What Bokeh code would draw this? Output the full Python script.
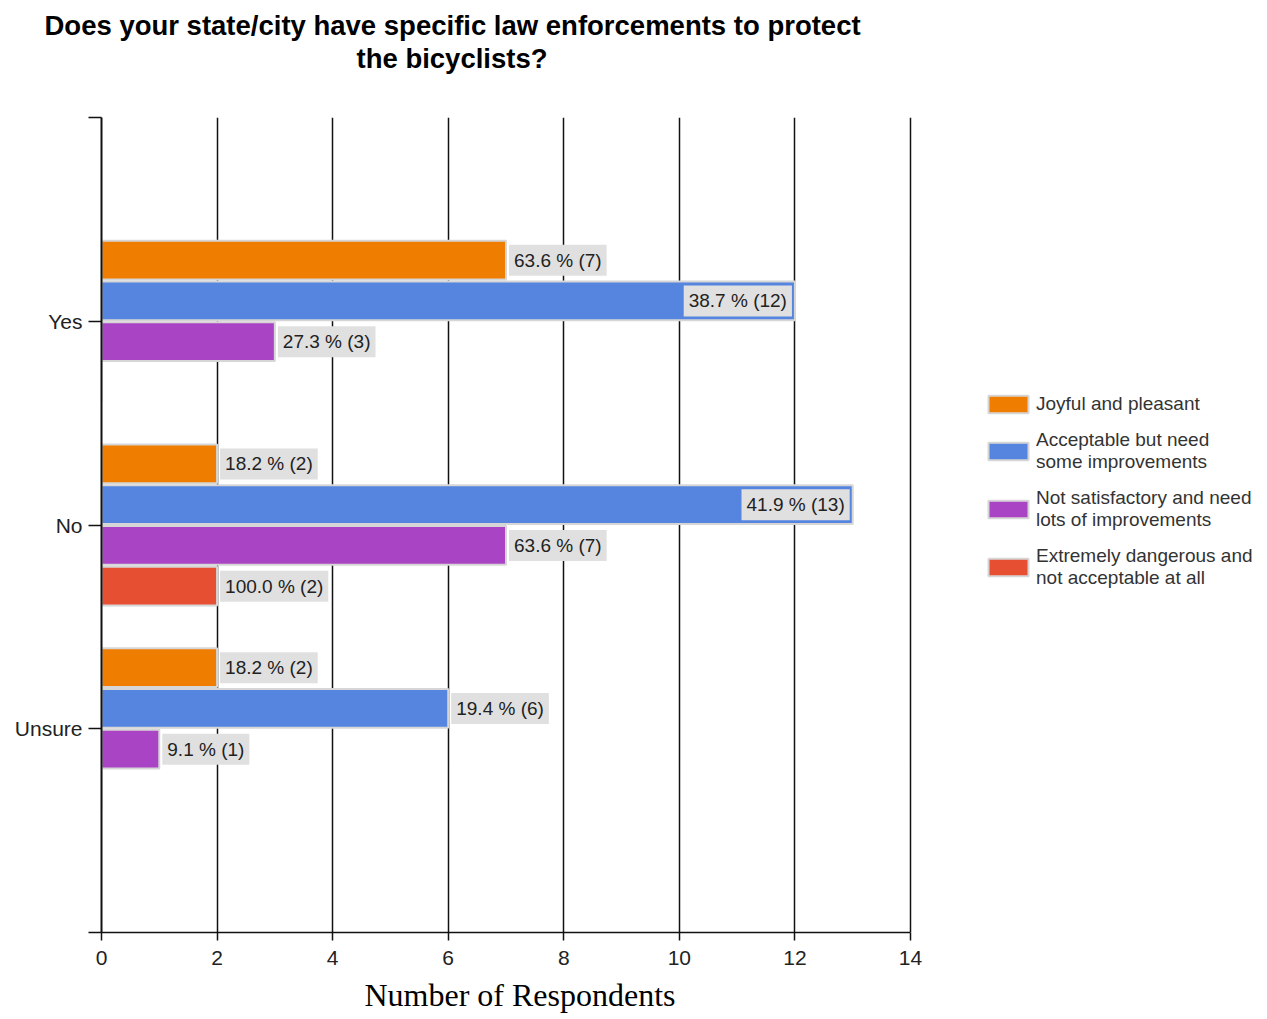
from bokeh.plotting import figure
from bokeh.models import ColumnDataSource, FixedTicker, Legend, LegendItem, Title
from bokeh.embed import file_html
from bokeh.resources import INLINE
from bokeh.core.properties import value

# ---------------- data ----------------
categories = ["Yes", "No", "Unsure"]
series_names = [
    "Joyful and pleasant",
    "Acceptable but need\nsome improvements",
    "Not satisfactory and need\nlots of improvements",
    "Extremely dangerous and\nnot acceptable at all",
]
joyful_counts = [7, 2, 2]
joyful_pct = [63.6, 18.2, 18.2]
acceptable_counts = [12, 13, 6]
acceptable_pct = [38.7, 41.9, 19.4]
notsat_counts = [3, 7, 1]
notsat_pct = [27.3, 63.6, 9.1]
dangerous_counts = [0, 2, 0]
dangerous_pct = [0.0, 100.0, 0.0]
x_ticks = [0, 2, 4, 6, 8, 10, 12, 14]
title_lines = ["Does your state/city have specific law enforcements to protect",
               "the bicyclists?"]
x_title = "Number of Respondents"

series_counts = [joyful_counts, acceptable_counts, notsat_counts, dangerous_counts]
series_pcts = [joyful_pct, acceptable_pct, notsat_pct, dangerous_pct]

# ---------------- style / layout ----------------
colors = ["#ef7d00", "#5585de", "#a945c5", "#e64f31"]
offsets = [0.3, 0.1, -0.1, -0.3]
bar_h = 0.19
FONT = "Liberation Sans"
n_cat = len(categories)
cat_pos = [n_cat - i for i in range(n_cat)]  # Yes=3, No=2, Unsure=1

W, H = 1267, 1019
left_b, top_b, bottom_b = 101, 117, 87
axis_px = 809                      # pixel length of the 0..14 axis
x_max = x_ticks[-1]
frame_w = W - left_b
x_end = x_max * frame_w / axis_px  # frame extends right to hold the legend

p = figure(width=W, height=H, output_backend="svg", toolbar_location=None,
           x_range=(0, x_end), y_range=(0, n_cat + 1),
           min_border_left=left_b, min_border_right=0, min_border_top=top_b,
           min_border_bottom=bottom_b)
p.outline_line_color = None
p.background_fill_color = "white"

legend_items = []
for name, counts, pcts, col, off in zip(series_names, series_counts, series_pcts, colors, offsets):
    ys = [c + off for c in cat_pos]
    src = ColumnDataSource(dict(y=ys, right=counts))
    r = p.hbar(y="y", left=0, right="right", height=bar_h, source=src,
               fill_color=col, line_color="#d6d6d6", line_width=2)
    legend_items.append(LegendItem(label=name, renderers=[r]))

    out_x, out_y, out_t, in_x, in_y, in_t = [], [], [], [], [], []
    for cnt, pc, y in zip(counts, pcts, ys):
        if cnt == 0:
            continue
        txt = f"{pc:.1f} % ({cnt})"
        if cnt > 11:
            in_x.append(cnt); in_y.append(y); in_t.append(txt)
        else:
            out_x.append(cnt); out_y.append(y); out_t.append(txt)
    common = dict(text_font=value(FONT), text_font_size="19px", text_color="#222222",
                  text_baseline="middle", background_fill_color="#e0e0e0", padding=5)
    if out_x:
        p.text(x=out_x, y=out_y, text=out_t, text_align="left", x_offset=3, **common)
    if in_x:
        p.text(x=in_x, y=in_y, text=in_t, text_align="right", x_offset=-3, **common)

# x axis (bounded to 0..14)
p.xaxis.bounds = (0, x_max)
p.xaxis.ticker = FixedTicker(ticks=x_ticks)
p.xgrid.ticker = FixedTicker(ticks=x_ticks)
p.xgrid.bounds = (0, x_max)
p.xgrid.grid_line_color = "#111111"
p.xgrid.grid_line_width = 1.5
p.ygrid.grid_line_color = None
p.xaxis.axis_line_color = "#111111"
p.xaxis.axis_line_width = 1.5
p.xaxis.major_tick_out = 8
p.xaxis.major_tick_in = 0
p.xaxis.minor_tick_line_color = None
p.xaxis.major_tick_line_color = "#111111"
p.xaxis.major_tick_line_width = 1.5
p.xaxis.major_label_text_font = FONT
p.xaxis.major_label_text_font_size = "21px"
p.xaxis.major_label_text_color = "#222222"
p.xaxis.major_label_standoff = 10

# x axis title, placed under the 0..14 axis
p.add_layout(Title(text=x_title, align="left", offset=263, standoff=14,
                   text_font="Liberation Serif", text_font_size="32px",
                   text_font_style="normal", text_color="#000000"), "below")

# y axis
y_ticks = list(range(0, n_cat + 2))
p.yaxis.ticker = FixedTicker(ticks=y_ticks)
overrides = {t: "" for t in y_ticks}
for c, pos in zip(categories, cat_pos):
    overrides[pos] = c
p.yaxis.major_label_overrides = overrides
p.yaxis.axis_line_color = "#111111"
p.yaxis.axis_line_width = 2
p.yaxis.major_tick_out = 13
p.yaxis.major_tick_in = 0
p.yaxis.major_tick_line_color = "#111111"
p.yaxis.major_tick_line_width = 1.5
p.yaxis.minor_tick_line_color = None
p.yaxis.major_label_text_font = FONT
p.yaxis.major_label_text_font_size = "21px"
p.yaxis.major_label_text_color = "#222222"
p.yaxis.major_label_standoff = 6

# title: spacer nearest the frame, then line 2, then line 1 (outermost)
p.add_layout(Title(text=" ", text_font_size="38px", standoff=0), "above")
p.add_layout(Title(text=title_lines[1], align="left", offset=255, standoff=0,
                   text_font=FONT, text_font_size="27.5px", text_font_style="bold",
                   text_color="#000000"), "above")
p.add_layout(Title(text=title_lines[0], align="left", offset=-57, standoff=0,
                   text_font=FONT, text_font_size="27.5px", text_font_style="bold",
                   text_color="#000000"), "above")

legend = Legend(items=legend_items, location=(882, 343), padding=0, margin=0,
                spacing=14, glyph_width=50, glyph_height=22, label_standoff=3,
                label_text_font=FONT, label_text_font_size="19px",
                label_text_color="#333333", label_text_line_height=1.1,
                border_line_alpha=0, background_fill_alpha=0)
p.add_layout(legend, "center")

open("out.html", "w").write(file_html(p, INLINE))
